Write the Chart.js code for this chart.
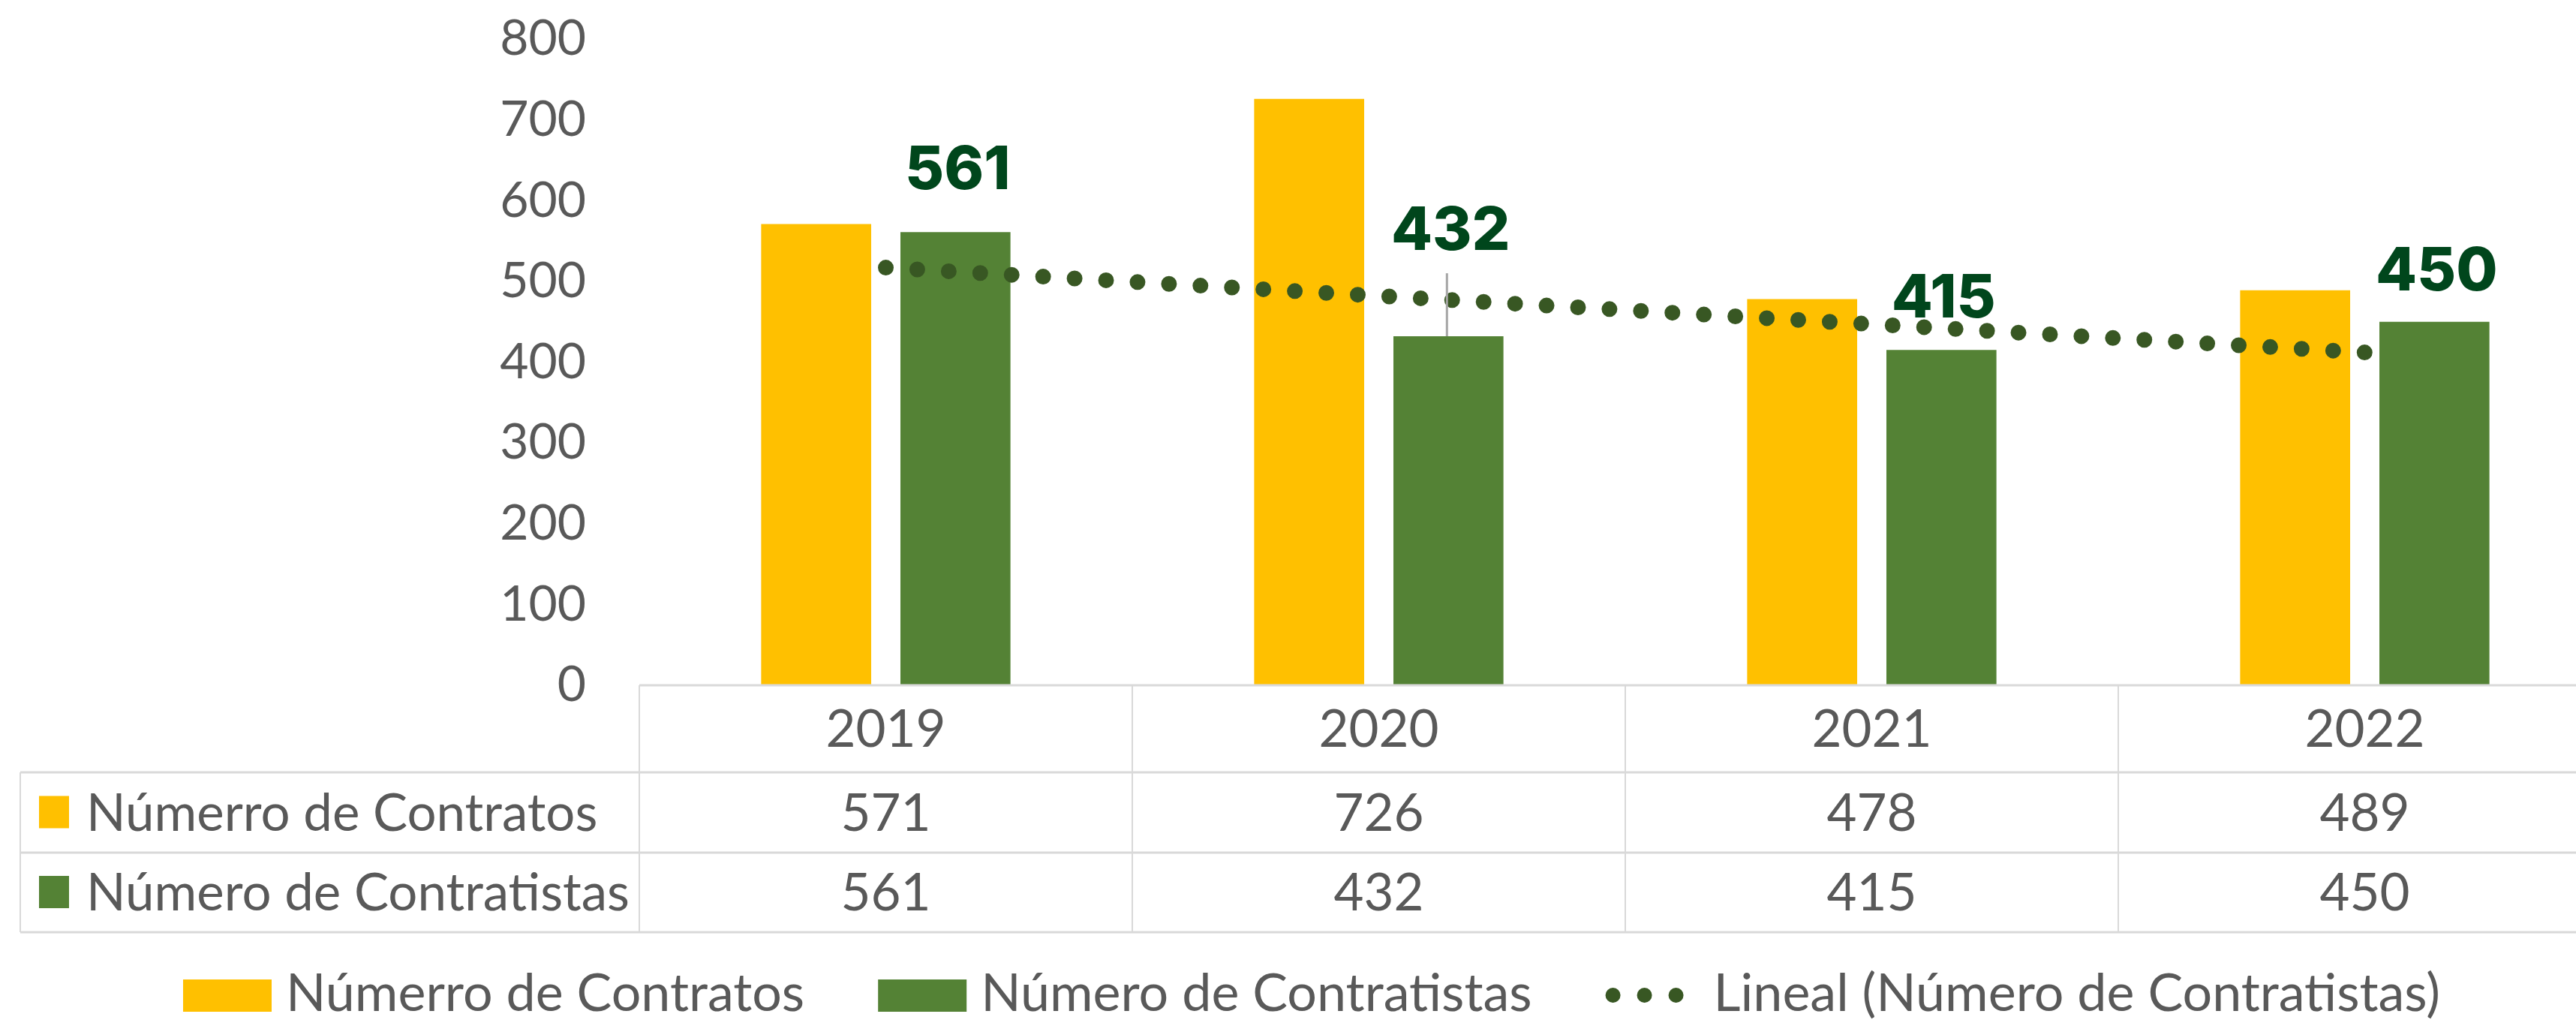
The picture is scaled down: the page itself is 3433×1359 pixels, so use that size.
<!DOCTYPE html>
<html>
<head>
<meta charset="utf-8">
<script src="https://cdn.jsdelivr.net/npm/chart.js@4.4.1/dist/chart.umd.min.js"></script>
<style>
  html, body { margin: 0; padding: 0; background: #fff; overflow: hidden; }
  #wrap { width: 3433px; height: 1359px; overflow: hidden; }
</style>
</head>
<body>
<div id="wrap"><canvas id="chart" width="3500" height="1359"></canvas></div>
<script>
const years = ['2019', '2020', '2021', '2022'];
const contratos = [571, 726, 478, 489];
const contratistas = [561, 432, 415, 450];
// Excel "Lineal" trend line at each year
const tendencia = [517, 482, 447, 412];
const yMax = 800;
const yStep = 100;

const FONT = 'Lato, "Noto Sans", sans-serif';
const GREY = '#595959';
const YELLOW = '#ffc000';
const GREEN = '#548235';
const DOTS = '#385723';

// labels above the green bars, lifted by hand in the original
const labelPlugin = {
  id: 'valueLabels',
  afterDatasetsDraw(chart, args, opts) {
    const ctx = chart.ctx;
    const meta = chart.getDatasetMeta(1);
    ctx.save();
    ctx.font = '800 80px Inter, ' + FONT;
    ctx.fillStyle = '#00461c';
    ctx.textAlign = 'center';
    ctx.textBaseline = 'alphabetic';
    meta.data.forEach((bar, i) => {
      const lift = opts.lift[i];
      const base = bar.y - lift;
      if (lift > 80) {
        ctx.strokeStyle = '#a6a6a6';
        ctx.lineWidth = 3;
        ctx.beginPath();
        ctx.moveTo(bar.x - 2, bar.y);
        ctx.lineTo(bar.x - 2, base + 31);
        ctx.stroke();
      }
      ctx.fillText(String(chart.data.datasets[1].data[i]), bar.x + 3, base);
    });
    ctx.restore();
  }
};

const tablePlugin = {
  id: 'dataTable',
  afterDraw(chart) {
    const {ctx, chartArea: a, scales: {x}} = chart;
    const n = years.length;
    const colW = (a.right - a.left) / n;
    const r0 = a.bottom, r1 = r0 + 116, r2 = r1 + 107, r3 = r2 + 106;
    const tableLeft = 27;
    const line = (x1, y1, x2, y2) => { ctx.beginPath(); ctx.moveTo(x1, y1); ctx.lineTo(x2, y2); ctx.stroke(); };

    ctx.save();
    ctx.strokeStyle = '#d9d9d9';
    ctx.lineWidth = 2;
    for (let i = 0; i <= n; i++) line(a.left + i * colW, r0, a.left + i * colW, r3);
    line(tableLeft, r1, tableLeft, r3);
    ctx.lineWidth = 3;
    line(a.left, r0, a.right, r0);
    line(tableLeft, r1, a.right, r1);
    line(tableLeft, r2, a.right, r2);
    line(tableLeft, r3, a.right, r3);

    ctx.font = '69px ' + FONT;
    ctx.fillStyle = GREY;
    ctx.textBaseline = 'middle';
    ctx.textAlign = 'center';
    years.forEach((y, i) => ctx.fillText(y, x.getPixelForValue(i), (r0 + r1) / 2 + 2));

    const rows = [[r1, r2], [r2, r3]];
    chart.data.datasets.slice(0, 2).forEach((ds, k) => {
      const mid = (rows[k][0] + rows[k][1]) / 2;
      ctx.textAlign = 'center';
      ctx.fillStyle = GREY;
      ds.data.forEach((v, i) => ctx.fillText(String(v), x.getPixelForValue(i), mid + 2));
      ctx.fillStyle = ds.backgroundColor;
      ctx.fillRect(52, mid - 22, 40, 43);
      ctx.textAlign = 'left';
      ctx.fillStyle = GREY;
      ctx.fillText(ds.label, 115, mid + 2);
    });
    ctx.restore();
  }
};

const legendPlugin = {
  id: 'bottomLegend',
  afterDraw(chart) {
    const ctx = chart.ctx;
    const ds = chart.data.datasets;
    const cy = 1326;
    let x = 244;
    ctx.save();
    ctx.font = '70px ' + FONT;
    ctx.textBaseline = 'middle';
    ctx.textAlign = 'left';
    [0, 1].forEach(k => {
      ctx.fillStyle = ds[k].backgroundColor;
      ctx.fillRect(x, cy - 21, 118, 43);
      x += 118 + 19;
      ctx.fillStyle = GREY;
      ctx.fillText(ds[k].label, x, cy - 2);
      x += ctx.measureText(ds[k].label).width + 98;
    });
    ctx.fillStyle = ds[2].borderColor;
    for (let j = 0; j < 3; j++) {
      ctx.beginPath();
      ctx.arc(x + 10 + j * 42, cy, 10, 0, Math.PI * 2);
      ctx.fill();
    }
    x += 105 + 39;
    ctx.fillStyle = GREY;
    ctx.fillText(ds[2].label, x, cy - 2);
    ctx.restore();
  }
};

new Chart(document.getElementById('chart'), {
  type: 'bar',
  data: {
    labels: years,
    datasets: [
      {
        label: 'Númerro de Contratos',
        data: contratos,
        backgroundColor: YELLOW,
        barPercentage: 0.79,
        categoryPercentage: 0.565,
        order: 1,
      },
      {
        label: 'Número de Contratistas',
        data: contratistas,
        backgroundColor: GREEN,
        barPercentage: 0.79,
        categoryPercentage: 0.565,
        order: 1,
      },
      {
        type: 'line',
        label: 'Lineal (Número de Contratistas)',
        data: tendencia,
        borderColor: DOTS,
        borderWidth: 21,
        borderDash: [0, 42],
        borderCapStyle: 'round',
        pointRadius: 0,
        fill: false,
        order: 0,
      }
    ]
  },
  options: {
    responsive: false,
    animation: false,
    layout: { padding: { left: 0, right: 20, top: 52, bottom: 446 } },
    plugins: {
      legend: { display: false },
      tooltip: { enabled: false },
      valueLabels: { lift: [57, 115, 43, 42] },
    },
    scales: {
      x: { display: false },
      y: {
        min: 0,
        max: yMax,
        afterFit: s => { s.width = 852; },
        grid: { display: false, drawTicks: true, tickLength: 71 },
        border: { display: false },
        ticks: {
          stepSize: yStep,
          padding: 0,
          color: GREY,
          font: { family: FONT, size: 66 },
        }
      }
    }
  },
  plugins: [labelPlugin, tablePlugin, legendPlugin]
});
</script>
</body>
</html>
